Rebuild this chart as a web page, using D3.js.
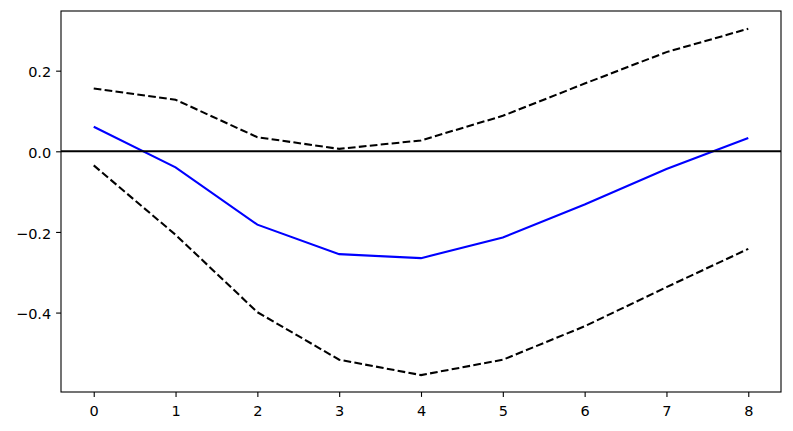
<!DOCTYPE html>
<html><head><meta charset="utf-8">
<script src="https://cdn.jsdelivr.net/npm/d3@7"></script>
<style>body{margin:0;background:#fff}svg{display:block}</style>
</head><body>
<script>
const steps = [0,1,2,3,4,5,6,7,8];
const irf   = [0.061,-0.040,-0.182,-0.255,-0.265,-0.214,-0.132,-0.044,0.033];
const upper = [0.156,0.128,0.035,0.006,0.027,0.088,0.168,0.246,0.304];
const lower = [-0.035,-0.207,-0.399,-0.517,-0.555,-0.517,-0.434,-0.337,-0.242];
const xTicks = [0,1,2,3,4,5,6,7,8];
const yTicks = [-0.4,-0.2,0.0,0.2];

const W=793,H=431, L=61,R=781,T=11,B=392;
const svg=d3.select("body").append("svg").attr("width",W).attr("height",H);
const x=d3.scaleLinear().domain([-0.4,8.4]).range([L,R]);
const y=d3.scaleLinear().domain([-0.597,0.348]).range([B,T]);

const line=(vals)=>d3.line().x((d,i)=>x(steps[i])).y(d=>y(d))(vals);
const g=svg.append("g");
g.append("path").attr("d",line(upper)).attr("fill","none").attr("stroke","#000").attr("stroke-width",2.08).attr("stroke-dasharray","7.7,3.3");
g.append("path").attr("d",line(lower)).attr("fill","none").attr("stroke","#000").attr("stroke-width",2.08).attr("stroke-dasharray","7.7,3.3");
g.append("path").attr("d",line(irf)).attr("fill","none").attr("stroke","#0000ff").attr("stroke-width",2.08);
g.append("line").attr("x1",L).attr("x2",R).attr("y1",y(0)).attr("y2",y(0)).attr("stroke","#000").attr("stroke-width",2.08);

const fmt=d=>{const s=d3.format(".1f")(Math.abs(d)); return (d< -1e-9?"\u2212":"")+s;};
const xa=svg.append("g").attr("transform",`translate(0,${B})`)
  .call(d3.axisBottom(x).tickValues(xTicks).tickFormat(d3.format("d")).tickSizeOuter(0).tickSize(4.9).tickPadding(4.9));
const ya=svg.append("g").attr("transform",`translate(${L},0)`)
  .call(d3.axisLeft(y).tickValues(yTicks).tickFormat(fmt).tickSizeOuter(0).tickSize(4.9).tickPadding(4.9));
[xa,ya].forEach(a=>{
  a.attr("font-size",null).attr("font-family",null);
  a.select(".domain").remove();
  a.selectAll("text").style("font-family","'DejaVu Sans'").style("font-size","14.5px").attr("fill","#000");
  a.selectAll("line").attr("stroke","#000").attr("stroke-width",1.1);
});
xa.selectAll("text").attr("dy",null).attr("y",24);
ya.selectAll("text").attr("dy","0.42em");
svg.append("rect").attr("x",L).attr("y",T).attr("width",R-L).attr("height",B-T).attr("fill","none").attr("stroke","#000").attr("stroke-width",1.1);
</script>
</body></html>
